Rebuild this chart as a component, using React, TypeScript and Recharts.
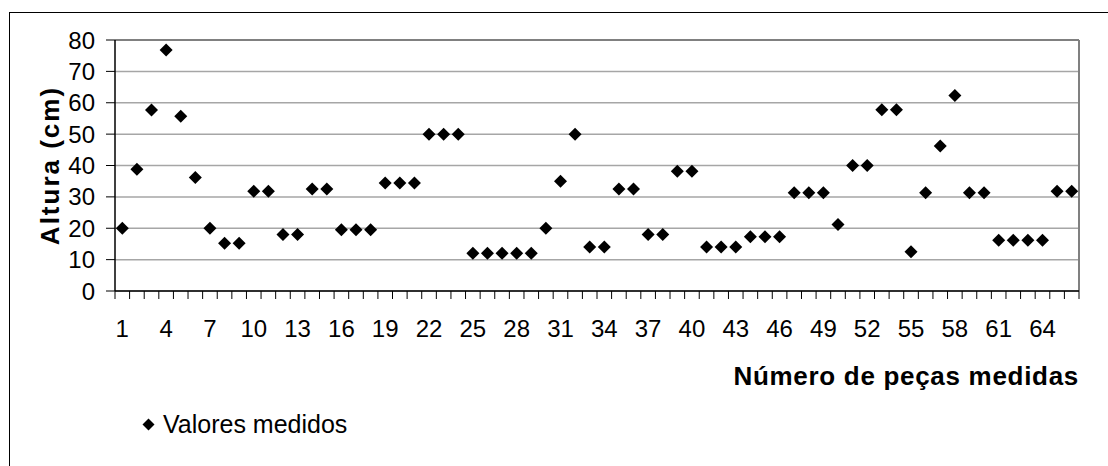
import {
  ScatterChart,
  Scatter,
  XAxis,
  YAxis,
  CartesianGrid,
  ReferenceLine,
  Legend,
  Label,
} from 'recharts'

// altura medida de cada peça (cm), peça 1..66
const alturas = [
  20, 38.8, 57.7, 76.8, 55.7, 36.2, 20, 15.2, 15.2, 31.8,
  31.8, 18, 18, 32.5, 32.5, 19.5, 19.5, 19.5, 34.4, 34.4,
  34.4, 50, 50, 50, 12, 12, 12, 12, 12, 20,
  35, 50, 14, 14, 32.5, 32.5, 18, 18, 38.2, 38.2,
  14, 14, 14, 17.3, 17.3, 17.3, 31.3, 31.3, 31.3, 21.2,
  40, 40, 57.8, 57.8, 12.5, 31.3, 46.2, 62.3, 31.3, 31.3,
  16.2, 16.2, 16.2, 16.2, 31.8, 31.8,
]
const pecas = alturas.map((_, i) => i + 1)
const xLabelTicks = [1, 4, 7, 10, 13, 16, 19, 22, 25, 28, 31, 34, 37, 40, 43, 46, 49, 52, 55, 58, 61, 64]
const yTicks = [0, 10, 20, 30, 40, 50, 60, 70, 80]

const data = pecas.map((n, i) => ({ n, v: alturas[i] }))
const domainX: [number, number] = [0.5, pecas.length + 0.5]
const boundaryTicks = [0, ...pecas].map((n) => n + 0.5)

const FONT = '"Liberation Sans", Arial, sans-serif'

const Diamond = (props: any) => {
  const { cx, cy } = props
  const r = 6.5
  return (
    <path
      d={`M${cx},${cy - r}L${cx + r},${cy}L${cx},${cy + r}L${cx - r},${cy}Z`}
      fill="#000"
    />
  )
}

const NoLabel = () => <g />

const LegendContent = (props: any) => {
  const item = props.payload?.[0]
  return (
    <div
      style={{
        height: 54,
        paddingTop: 24,
        boxSizing: 'border-box',
        display: 'flex',
        alignItems: 'center',
        fontFamily: FONT,
        fontSize: 25,
        lineHeight: '30px',
        color: '#000',
      }}
    >
      <svg width={13} height={13} style={{ marginRight: 8 }}>
        <path d="M6.5,0.5L12.5,6.5L6.5,12.5L0.5,6.5Z" fill="#000" />
      </svg>
      <span>{item ? item.value : 'Valores medidos'}</span>
    </div>
  )
}

export default function App() {
  return (
    <div
      style={{
        position: 'absolute',
        left: 0,
        top: 0,
        width: 1108,
        height: 466,
        background: '#fff',
        overflow: 'hidden',
      }}
    >
      <div
        style={{
          position: 'absolute',
          left: 9,
          top: 12,
          width: 1120,
          height: 480,
          borderLeft: '1px solid #000',
          borderTop: '1px solid #000',
        }}
      />
      <div style={{ position: 'absolute', left: 0, top: 0 }}>
        <ScatterChart
          width={1108}
          height={466}
          margin={{ top: 40, right: 29, bottom: 27, left: 0 }}
          style={{ fontFamily: FONT }}
        >
          <CartesianGrid horizontal vertical={false} stroke="#a6a6a6" strokeWidth={1.5} />
          <XAxis
            xAxisId="a_marks"
            type="number"
            dataKey="n"
            domain={domainX}
            ticks={boundaryTicks}
            interval={0}
            tick={NoLabel}
            tickLine={{ stroke: '#000' }}
            tickSize={8}
            axisLine={{ stroke: '#000', strokeWidth: 1.5 }}
            height={9}
            allowDataOverflow
          />
          <XAxis
            xAxisId="b_labels"
            type="number"
            dataKey="n"
            domain={domainX}
            ticks={xLabelTicks}
            interval={0}
            axisLine={false}
            tickLine={false}
            tickSize={0}
            tickMargin={20}
            tick={{ fill: '#000', fontSize: 24, fontFamily: FONT }}
            height={85}
            allowDataOverflow
          >
            <Label
              value="Número de peças medidas"
              position="insideBottomRight"
              offset={0}
              style={{ fontWeight: 'bold', fontSize: 26, letterSpacing: 0.7, fill: '#000', fontFamily: FONT }}
            />
          </XAxis>
          <YAxis
            type="number"
            dataKey="v"
            domain={[0, 80]}
            ticks={yTicks}
            interval={0}
            width={115}
            tickSize={9}
            tickMargin={11}
            tickLine={{ stroke: '#000' }}
            axisLine={{ stroke: '#000', strokeWidth: 1.5 }}
            tick={{ fill: '#000', fontSize: 24, fontFamily: FONT }}
          >
            <Label
              value="Altura (cm)"
              angle={-90}
              position="insideLeft"
              offset={50}
              style={{ fontWeight: 'bold', fontSize: 26, letterSpacing: 2, fill: '#000', textAnchor: 'middle', fontFamily: FONT }}
            />
          </YAxis>
          <ReferenceLine xAxisId="a_marks" y={80} stroke="#808080" strokeWidth={2} />
          <ReferenceLine xAxisId="a_marks" x={domainX[1]} stroke="#808080" strokeWidth={2} />
          <Legend
            verticalAlign="bottom"
            align="left"
            content={LegendContent}
            wrapperStyle={{ left: 142 }}
          />
          <Scatter
            name="Valores medidos"
            data={data}
            xAxisId="a_marks"
            fill="#000"
            shape={Diamond}
            isAnimationActive={false}
          />
        </ScatterChart>
      </div>
    </div>
  )
}
